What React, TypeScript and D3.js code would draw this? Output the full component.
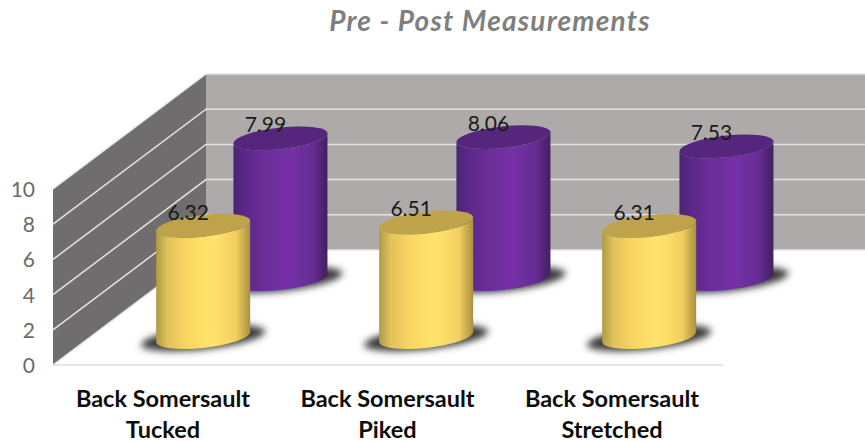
import * as d3 from "d3";

const title = "Pre - Post Measurements";
const categories = ["Tucked", "Piked", "Stretched"];
const labelPrefix = "Back Somersault";
const postValues = [7.99, 8.06, 7.53];
const preValues = [6.32, 6.51, 6.31];
const tickValues = [0, 2, 4, 6, 8, 10];

const FONT = "Lato, Carlito, sans-serif";
const RX = 47;
const RY = 10.9;
const SKEW = -6;

// front edge of the floor to the back wall
const xCat = d3.scalePoint<string>().domain(categories).range([166, 612]);
const xLabel = d3.scalePoint<string>().domain(categories).range([163, 612]);
const depthX = d3.scaleLinear().domain([0, 1]).range([0, 153]);
const depthY = d3.scaleLinear().domain([0, 1]).range([365, 250]);
const heightScale = d3.scaleLinear().domain([0, 10]).range([0, 176]);

const series = [
  { key: "post", values: postValues, depth: 0.748, fill: "url(#purpleBody)", top: "#55267b" },
  { key: "pre", values: preValues, depth: 0.243, fill: "url(#yellowBody)", top: "#bfa34b" },
];

function bodyPath(h: number) {
  return `M${-RX},${-h} L${-RX},0 A${RX},${RY} 0 0 0 ${RX},0 L${RX},${-h} A${RX},${RY} 0 0 1 ${-RX},${-h} Z`;
}

function Stops({ colors }: { colors: string[] }) {
  const offsets = [0, 0.12, 0.35, 0.6, 0.85, 1];
  return (
    <>
      {colors.map((c, i) => (
        <stop key={i} offset={offsets[i]} stopColor={c} />
      ))}
    </>
  );
}

export default function App() {
  const frontX = depthX(0) + 53;
  const backX = depthX(1) + 53;
  return (
    <svg width={865} height={442} style={{ position: "absolute", left: 0, top: 0 }} fontFamily={FONT}>
      <defs>
        <linearGradient id="yellowBody" x1="0" x2="1" y1="0" y2="0">
          <Stops colors={["#b09a45", "#e0c25a", "#fdd762", "#ffe36d", "#f3cf60", "#a89040"]} />
        </linearGradient>
        <linearGradient id="purpleBody" x1="0" x2="1" y1="0" y2="0">
          <Stops colors={["#4a2472", "#5b2888", "#6b2e9a", "#7531a6", "#652c92", "#42205f"]} />
        </linearGradient>
        <filter id="blur" x="-30%" y="-80%" width="160%" height="260%">
          <feGaussianBlur stdDeviation="3.5" />
        </filter>
      </defs>

      <rect width={865} height={442} fill="#ffffff" />

      <text
        x={490}
        y={31}
        textAnchor="middle"
        fontSize={28}
        letterSpacing={1.2}
        fontWeight={700}
        fontStyle="italic"
        fill="#7f7f7f"
      >
        {title}
      </text>

      {/* walls */}
      <rect
        x={backX}
        y={depthY(1) - heightScale(10)}
        width={865 - backX}
        height={heightScale(10)}
        fill="#aeaaaa"
      />
      <polygon
        points={[
          [frontX, depthY(0)],
          [frontX, depthY(0) - heightScale(10)],
          [backX, depthY(1) - heightScale(10)],
          [backX, depthY(1)],
        ].join(" ")}
        fill="#6f6d6d"
      />
      {tickValues.map((t) => (
        <g key={t} stroke="#e4e3e3" strokeWidth={1.5} fill="none">
          <polyline
            points={[
              [frontX, depthY(0) - heightScale(t)],
              [backX, depthY(1) - heightScale(t)],
              [865, depthY(1) - heightScale(t)],
            ].join(" ")}
          />
        </g>
      ))}
      <line x1={frontX} x2={723} y1={depthY(0)} y2={depthY(0)} stroke="#dddddd" strokeWidth={1.5} />

      {tickValues.map((t) => (
        <text
          key={t}
          x={35}
          y={depthY(0) - heightScale(t) + 8}
          textAnchor="end"
          fontSize={21}
          fill="#6b6b6b"
        >
          {t}
        </text>
      ))}

      {/* cylinders, back row first */}
      {series.map((s) =>
        s.values.map((v, i) => {
          const cx = (xCat(categories[i]) as number) + depthX(s.depth);
          const base = depthY(s.depth);
          const h = heightScale(v);
          return (
            <g key={s.key + i} transform={`translate(${cx},${base}) skewY(${SKEW})`}>
              <ellipse cx={0} cy={1} rx={RX + 15} ry={RY + 0.5} fill="#3a3a3a" filter="url(#blur)" />
              <path d={bodyPath(h)} fill={s.fill} />
              <ellipse cx={0} cy={-h} rx={RX} ry={RY} fill={s.top} />
            </g>
          );
        })
      )}

      {/* data labels */}
      {series.map((s) =>
        s.values.map((v, i) => (
          <text
            key={s.key + i}
            x={(xCat(categories[i]) as number) + depthX(s.depth) - 15}
            y={depthY(s.depth) - heightScale(v) - 6}
            textAnchor="middle"
            fontSize={21}
            fill="#1a1a1a"
          >
            {v.toFixed(2)}
          </text>
        ))
      )}

      {categories.map((c) => (
        <text
          key={c}
          textAnchor="middle"
          fontSize={23.5}
          fontWeight={700}
          fill="#0d0d0d"
        >
          <tspan x={xLabel(c)} y={407}>
            {labelPrefix}
          </tspan>
          <tspan x={xLabel(c)} y={438}>
            {c}
          </tspan>
        </text>
      ))}
    </svg>
  );
}
